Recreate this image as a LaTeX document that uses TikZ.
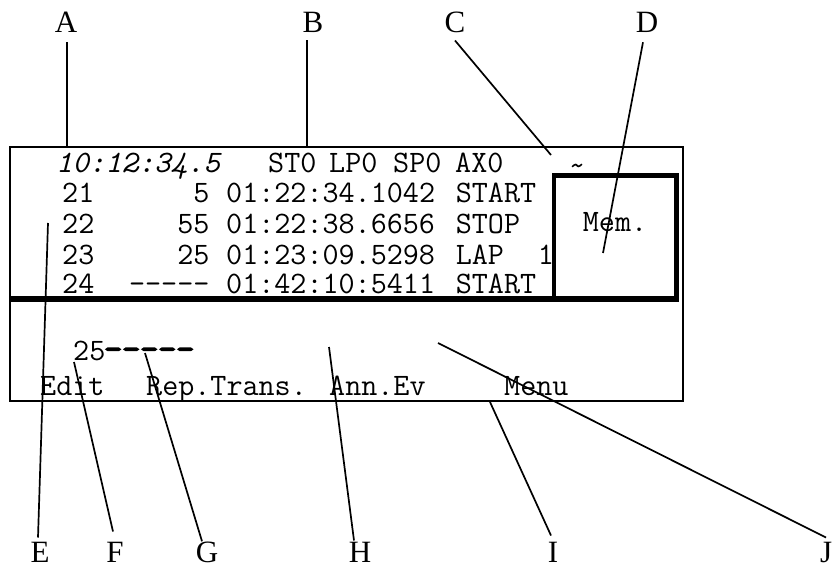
\documentclass[tikz,border=0pt]{standalone}
\usepackage{fontspec}
\setmainfont{Liberation Serif}
\newfontfamily\heavymono[FakeBold=4]{Latin Modern Mono}
\begin{document}
\begin{tikzpicture}[x=1pt,y=-1pt,
  lbl/.style={anchor=base,inner sep=0pt,font=\fontsize{31}{31}\selectfont},
  mtxt/.style={anchor=base west,inner sep=0pt,font=\fontsize{31.2}{31.2}\selectfont\ttfamily},
  mtxtr/.style={mtxt,anchor=base east},
  leader/.style={line width=1.7pt},
  frame/.style={line width=2.6pt},
  heavy/.style={line width=5pt}]
\useasboundingbox (0,0) rectangle (835,569);
% frame and heavy rules
\draw[frame] (10,147) rectangle (683,401);
\draw[heavy] (10,299) -- (679,299);
\draw[line width=4.5pt] (554,301) -- (554,175.5) -- (676.5,175.5) -- (676.5,301);
% status line
\node[mtxt,font=\fontsize{31.2}{31.2}\selectfont\ttfamily\itshape] (time) at (56,173) {10:12:34.5};
\node[mtxt] (st) at (268,173) {ST0};
\node[mtxt] (lp) at (329,173) {LP0};
\node[mtxt] (sp) at (393,173) {SP0};
\node[mtxt] (ax) at (455,173) {AX0};
\node[mtxt] (tilde) at (569,176) {\textasciitilde};
% rows
\node[mtxt] (n21) at (62,203) {21};
\node[mtxtr] (c21) at (209.6,203) {5};
\node[mtxt] (t21) at (226,203) {01:22:34.1042};
\node[mtxt] (e21) at (455.6,203) {START};
\node[mtxt] (n22) at (62,234) {22};
\node[mtxtr] (c22) at (209.6,234) {55};
\node[mtxt] (t22) at (226,234) {01:22:38.6656};
\node[mtxt] (e22) at (455.6,234) {STOP};
\node[mtxt] (n23) at (62,264.5) {23};
\node[mtxtr] (c23) at (209.6,264.5) {25};
\node[mtxt] (t23) at (226,264.5) {01:23:09.5298};
\node[mtxt] (e23) at (455.6,264.5) {LAP};
\node[mtxt] (l23) at (537.6,264.5) {1};
\node[mtxt] (n24) at (62,294) {24};
\node[mtxtr] (c24) at (209.6,294) {-{}-{}-{}-{}-};
\node[mtxt] (t24) at (226,294) {01:42:10:5411};
\node[mtxt] (e24) at (455.6,294) {START};
\node[mtxt,anchor=base] (mem) at (615,232) {Mem.};
% entry line
\node[mtxt] (n25) at (73,360) {25};
\node[mtxt,font=\fontsize{35}{35}\selectfont\heavymono] (d25) at (104,360) {-{}-{}-{}-{}-};
% soft keys
\node[mtxt] (edit) at (40,395) {Edit};
\node[mtxt] (rep) at (146,395) {Rep.Trans.};
\node[mtxt] (ann) at (329,395) {Ann.Ev};
\node[mtxt] (menu) at (504,395) {Menu};
% labels
\node[lbl] (A) at (66,33) {A};
\node[lbl] (B) at (313,33) {B};
\node[lbl] (C) at (455,33) {C};
\node[lbl] (D) at (647,33) {D};
\node[lbl] (E) at (40,562) {E};
\node[lbl] (F) at (115,562) {F};
\node[lbl] (G) at (207,562) {G};
\node[lbl] (H) at (360,562) {H};
\node[lbl] (I) at (553,562) {I};
\node[lbl,anchor=base west] (J) at (820,562) {J};
% leader end points
\coordinate (a) at (67,147);
\coordinate (b) at (307,147);
\coordinate (c) at (551,155);
\coordinate (d) at (603,253);
\coordinate (e) at (48,223);
\coordinate (f) at (74,362);
\coordinate (g) at (145,353);
\coordinate (h) at (329,347);
\coordinate (i) at (490,402);
\coordinate (j) at (438,343);
\draw[leader] ([yshift=-9pt]a |- A.south) -- (a);
\draw[leader] ([yshift=-7pt]b |- B.south) -- (b);
\draw[leader] ([yshift=-7pt]C.south) -- (c);
\draw[leader] ([xshift=-4pt,yshift=-9pt]D.south) -- (d);
\draw[leader] ([xshift=-2pt,yshift=4pt]E.north) -- (e);
\draw[leader] ([xshift=-2pt,yshift=10pt]F.north) -- (f);
\draw[leader] ([xshift=-5pt,yshift=0pt]G.north) -- (g);
\draw[leader] ([xshift=-6pt,yshift=1pt]H.north) -- (h);
\draw[leader] ([xshift=-2pt,yshift=6pt]I.north) -- (i);
\draw[leader] ([xshift=6pt,yshift=4pt]J.north west) -- (j);
\end{tikzpicture}
\end{document}
